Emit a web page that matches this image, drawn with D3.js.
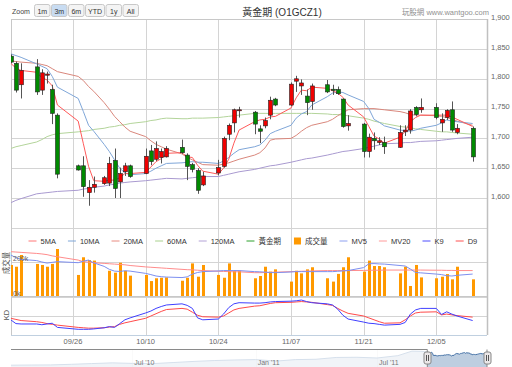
<!DOCTYPE html>
<html><head><meta charset="utf-8">
<script src="https://cdn.jsdelivr.net/npm/d3@7"></script>
<style>
body{margin:0;background:#fff;}
svg{display:block;font-family:"Liberation Sans","Noto Sans CJK TC",Arial,sans-serif;}
</style></head>
<body><svg id="c" width="512" height="367"></svg>
<script>
// ---------- DATA ----------
const dates = ["2011-09-14","2011-09-15","2011-09-16","2011-09-19","2011-09-20","2011-09-21","2011-09-22","2011-09-23",
"2011-09-27","2011-09-28","2011-09-29","2011-09-30","2011-10-02","2011-10-03","2011-10-04","2011-10-05","2011-10-06","2011-10-07",
"2011-10-10","2011-10-11","2011-10-12","2011-10-13","2011-10-14","2011-10-17","2011-10-18","2011-10-19","2011-10-20","2011-10-21",
"2011-10-24","2011-10-25","2011-10-26","2011-10-27","2011-10-28","2011-10-31","2011-11-01","2011-11-02","2011-11-03","2011-11-04",
"2011-11-07","2011-11-08","2011-11-09","2011-11-10","2011-11-11","2011-11-14","2011-11-15","2011-11-16","2011-11-17","2011-11-18",
"2011-11-21","2011-11-22","2011-11-23","2011-11-24","2011-11-25","2011-11-28","2011-11-29","2011-11-30","2011-12-01","2011-12-02",
"2011-12-05","2011-12-06","2011-12-07","2011-12-08","2011-12-09","2011-12-12"];
const opens  = [1838,1826,1790,1820,1781,1806,1782,1739,1654,1654,1609,1618,1624,1625,1663,1627,1644,1654,1641,1679,1665,1668,1669,1685,1672,1656,1646,1622,1642,1653,1707,1726,1747,1744,1716,1721,1739,1766,1756,1796,1788,1771,1762,1790,1782.5,1782,1766,1721,1724,1678,1700,1693,1693,1685,1711,1714,1752,1748,1752,1726,1735,1748,1710,1717];
const highs  = [1841,1829,1826,1833,1816,1812,1790,1742,1656,1670,1630,1636,1637,1669,1683,1651,1659,1656,1683,1689,1695,1683,1687,1698,1675,1659,1650,1644,1664,1703,1725,1750,1753,1746,1722,1735,1770,1768,1794,1805,1799,1782,1792,1798,1790,1787,1767,1739,1726,1708,1710,1702,1703,1722,1722,1749,1754,1767,1759,1742,1749,1762,1724,1720];
const lows   = [1826,1777,1767,1773,1773,1792,1724,1633,1646,1602,1587,1609,1622,1620,1600,1600,1637,1634,1640,1655,1662,1658,1668,1674,1630,1643,1607,1620,1638,1651,1697,1710,1735,1707,1692,1717,1732,1754,1754,1778,1773,1739,1748,1776,1773,1773,1718,1713,1668,1668,1681,1689,1674,1684,1704,1708,1737,1743,1732,1711,1731,1711,1707,1661];
const closes = [1828,1781,1814,1778,1810,1808,1742,1640,1647,1619,1618,1623,1634,1658,1616,1641,1654,1636,1670,1661,1683,1678,1683,1676,1653,1648,1613,1637,1651,1700,1722,1748,1748,1724,1712,1730,1764,1756,1791,1800,1793,1760,1788,1778,1780.5,1775,1720,1725,1678,1702,1696,1696,1686,1710,1714,1746,1740,1752,1735,1732,1747,1714,1717,1669];
const volumes = [183,173,240,189,183,173,189,275,126,227,211,208,null,150,139,196,150,122,126,91,107,110,112,93,110,192,116,183,126,110,192,150,150,107,120,173,145,158,88,150,135,158,170,107,88,132,170,227,145,208,177,177,170,135,173,63,183,112,107,116,131,101,173,101];
const ma5   = [1826,1818,1814,1811,1802,1798,1788,1756,1729,1691,1653,1629,1628,1630,1630,1634,1641,1641,1643,1652,1661,1666,1675,1676,1669,1668,1655,1645,1640,1650,1665,1692,1714,1728,1731,1732,1736,1737,1751,1768,1781,1780,1786,1784,1780,1776,1769,1756,1736,1720,1704,1699,1692,1702,1712,1728,1735,1739,1739,1739,1739,1736,1732,1720];
const ma10  = [1842,1839,1836,1825,1821,1817,1804,1786,1767,1745,1722,1712,1690,1678,1664,1650,1642,1639,1641,1645,1650,1654,1658,1659,1660,1661,1660,1660,1658,1662,1668,1675,1681,1686,1689,1697,1708,1712,1722,1734,1741,1745,1756,1770,1776,1778,1777,1773,1762,1750,1732,1727,1721,1714,1713,1712,1714,1717,1722,1726,1731,1729,1728,1725];
const ma20  = [1830,1829,1828,1826,1824,1822,1817,1812,1804,1797,1787,1779,1760,1749,1737,1728,1719,1712,1703,1696,1690,1686,1682,1674,1668,1664,1660,1656,1655,1657,1659,1662,1665,1672,1676,1684,1697,1699,1700,1705,1712,1718,1722,1728,1732,1738,1743,1748,1750,1750,1750,1749,1748,1745,1743,1740,1739,1739,1738,1737,1735,1732,1729,1722];
const ma60  = [1683,1686,1688,1694,1698,1703,1706,1708,1711,1712,1713,1715,1717,1719,1720,1722,1723,1725,1728,1730,1731,1733,1734,1733,1733,1734,1734,1734,1735,1736,1737,1738,1739,1742,1742,1742,1742,1742,1742,1742,1742,1742,1742,1741,1740,1740,1739,1738,1734,1732,1729,1727,1725,1720,1719,1718,1716,1715,1712,1711,1711,1710,1709,1707];
const ma120 = [1592,1596,1599,1607,1608,1609,1610,1611,1613,1615,1616,1618,1620,1622,1623,1625,1626,1627,1629,1630,1631,1632,1633,1632,1633,1634,1635,1636,1636,1638,1640,1642,1644,1648,1650,1652,1654,1655,1660,1662,1664,1666,1667,1672,1674,1676,1678,1679,1683,1685,1687,1689,1691,1692,1693,1693,1694,1695,1696,1697,1698,1699,1700,1702];
const mv5   = [240,225,215,208,200,194,198,202,196,205,211,195,175,158,148,146,150,148,135,128,120,116,114,111,115,131,140,145,149,151,151,151,151,145,144,142,140,139,143,145,145,145,145,145,145,147,149,151,168,190,191,189,188,180,177,160,140,138,131,128,122,120,124,131];
const mv20  = [259,257,255,249,246,242,235,230,211,202,199,196,192,190,188,186,184,180,172,170,168,166,164,158,156,155,153,151,147,146,145,144,144,139,139,140,141,142,145,146,147,148,149,151,151,151,151,151,152,153,153,153,154,154,154,154,154,154,153,153,152,152,151,151];
const k9    = [40,30,29,29,27,29,31,20,15,15,15,16,19,22,20,30,40,45,58,63,70,75,79,82,78,70,45,40,42,55,72,82,85,84,84,85,87,88,89,90,92,88,85,82,79,68,52,42,34,31,30,28,26,28,33,55,66,70,70,54,61,55,50,38];
const d9    = [44,41,38,35,33,30,28,26,20,19,18,18,19,21,22,28,32,35,44,50,56,62,67,70,68,60,52,48,47,50,58,66,70,76,77,80,83,85,86,87,88,87,86,80,78,70,63,57,50,45,40,35,31,32,40,50,58,60,61,53,55,53,51,47];
const priceTicks = [1600,1650,1700,1750,1800,1850,1900];
const volTicks = [0,200];
const xTickDates = ["2011-09-26","2011-10-10","2011-10-24","2011-11-07","2011-11-21","2011-12-05"];
const navDates = ["2010-01-01","2010-02-01","2010-03-01","2010-04-01","2010-05-01","2010-06-01","2010-07-01","2010-08-01","2010-09-01","2010-10-01","2010-11-01","2010-12-01","2011-01-01","2011-02-01","2011-03-01","2011-04-01","2011-05-01","2011-06-01","2011-07-01","2011-08-01","2011-08-22","2011-09-06"];
const navValues = [1100,1110,1115,1150,1190,1230,1200,1190,1250,1310,1360,1390,1410,1330,1410,1430,1530,1540,1500,1630,1880,1870];
const navTickDates = ["2010-07-01","2011-01-01","2011-07-01"];
const navTickLabels = ["Jul '10","Jan '11","Jul '11"];
const zoomButtons = ["1m","3m","6m","YTD","1y","All"];
const selectedButton = "3m";
const legendItems = [
  {name:"5MA", type:"line", color:"#f77"},
  {name:"10MA", type:"line", color:"#7fa6d8"},
  {name:"20MA", type:"line", color:"#e88a80"},
  {name:"60MA", type:"line", color:"#a9d18e"},
  {name:"120MA", type:"line", color:"#b3a2d6"},
  {name:"黃金期", type:"line", color:"#2ca02c"},
  {name:"成交量", type:"square", color:"#f90"},
  {name:"MV5", type:"line", color:"#8d9ff0"},
  {name:"MV20", type:"line", color:"#ff9a9a"},
  {name:"K9", type:"line", color:"#4d4dff"},
  {name:"D9", type:"line", color:"#ff5050"}
];
const maSeries = [
  {values:ma120, color:"#a99ad0"},
  {values:ma60, color:"#b3d49a"},
  {values:ma20, color:"#d9877c"},
  {values:ma10, color:"#7fa6d8"},
  {values:ma5, color:"#ff5a5a"}
];

// ---------- LAYOUT ----------
const svg = d3.select("#c");
const parse = d3.utcParse("%Y-%m-%d");
const D = dates.map(parse);
const L = 11, R = 487, TOP = 19, BOTTOM = 335;
const x = d3.scaleUtc()
  .domain([new Date(Date.UTC(2011,8,14,1,18)), new Date(Date.UTC(2011,11,14,18,21))])
  .range([L, R]);
const y = d3.scaleLinear().domain([1600,1900]).range([198,19.2]);
const yV = d3.scaleLinear().domain([0,200]).range([297,262]);
const yK = d3.scaleLinear().domain([0,100]).range([335,297]);
const grid = "#d4d4d4";

const defs = svg.append("defs");
function clip(id, x0, y0, w, h){ defs.append("clipPath").attr("id",id).append("rect").attr("x",x0).attr("y",y0).attr("width",w).attr("height",h); }
clip("cMain", L, TOP, R-L, 226.7-TOP);
clip("cVol", L, 249, R-L, 297-249);
clip("cKD", L, 297, R-L, BOTTOM-297);

const gMainGrid = svg.append("g");
[1550].concat(priceTicks).forEach(v=>{
  gMainGrid.append("line").attr("x1",L).attr("x2",R).attr("y1",Math.round(y(v))+0.5).attr("y2",Math.round(y(v))+0.5).attr("stroke",grid);
});
volTicks.forEach(v=>{
  svg.append("line").attr("x1",L).attr("x2",R).attr("y1",Math.round(yV(v))+0.5).attr("y2",Math.round(yV(v))+0.5).attr("stroke",grid);
});
[50].forEach(v=>{
  svg.append("line").attr("x1",L).attr("x2",R).attr("y1",Math.round(yK(v))+0.5).attr("y2",Math.round(yK(v))+0.5).attr("stroke",grid);
});
xTickDates.map(parse).forEach(d=>{
  const xx = Math.round(x(d))+0.5;
  svg.append("line").attr("x1",xx).attr("x2",xx).attr("y1",TOP).attr("y2",BOTTOM).attr("stroke",grid);
});
svg.append("line").attr("x1",L).attr("x2",R).attr("y1",TOP+0.5).attr("y2",TOP+0.5).attr("stroke","#c8c8c8");
svg.append("line").attr("x1",L+0.5).attr("x2",L+0.5).attr("y1",TOP).attr("y2",BOTTOM).attr("stroke","#c8c8c8");
svg.append("line").attr("x1",R+0.5).attr("x2",R+0.5).attr("y1",TOP).attr("y2",BOTTOM).attr("stroke","#c0c0c0").attr("stroke-width",1.5);
svg.append("line").attr("x1",L).attr("x2",R).attr("y1",BOTTOM+0.5).attr("y2",BOTTOM+0.5).attr("stroke","#c0d0e0");

// ---------- MAIN PANEL ----------
const gMain = svg.append("g").attr("clip-path","url(#cMain)");
const lineFor = (vals, ys) => d3.line().defined((d,i)=>vals[i]!=null).x((d,i)=>x(D[i])).y((d,i)=>ys(vals[i]));
maSeries.forEach(s=>{
  gMain.append("path").attr("d", lineFor(s.values, y)(s.values)).attr("fill","none").attr("stroke",s.color).attr("stroke-width",1);
});
const candles = gMain.append("g");
D.forEach((d,i)=>{
  const cx = Math.round(x(d))+0.5;
  const up = closes[i] >= opens[i];
  candles.append("line").attr("x1",cx).attr("x2",cx).attr("y1",y(highs[i])).attr("y2",y(lows[i])).attr("stroke","#555").attr("stroke-width",1);
  const top = y(Math.max(opens[i],closes[i])), bot = y(Math.min(opens[i],closes[i]));
  candles.append("rect").attr("x",cx-2).attr("y",top).attr("width",4).attr("height",Math.max(1,bot-top))
    .attr("fill", up ? "#f00000" : "#008a00").attr("stroke","#222").attr("stroke-width",0.6);
});

priceTicks.forEach(v=>{
  svg.append("text").attr("x",491).attr("y",y(v)+0.5).attr("font-size","7.5px").attr("fill","#666").text(d3.format(",")(v));
});

// ---------- VOLUME ----------
const gVol = svg.append("g").attr("clip-path","url(#cVol)");
D.forEach((d,i)=>{
  if(volumes[i]==null) return;
  gVol.append("rect").attr("x",Math.round(x(d))-1).attr("width",3).attr("y",yV(volumes[i])).attr("height",yV(0)-yV(volumes[i])).attr("fill","#ff9900");
});
gVol.append("path").attr("d", lineFor(mv20, yV)(mv20)).attr("fill","none").attr("stroke","#ff8c8c").attr("stroke-width",1);
gVol.append("path").attr("d", lineFor(mv5, yV)(mv5)).attr("fill","none").attr("stroke","#7d8ff0").attr("stroke-width",1);
volTicks.forEach(v=>{
  svg.append("text").attr("x",13).attr("y",yV(v)-1.5).attr("font-size","7px").attr("fill","#666").text(v+"k");
});
svg.append("text").attr("transform","translate(8.5,263) rotate(-90)").attr("text-anchor","middle").attr("font-size","7.5px").attr("fill","#555").text("成交量");

// ---------- KD ----------
const gKD = svg.append("g").attr("clip-path","url(#cKD)");
gKD.append("path").attr("d", lineFor(d9, yK)(d9)).attr("fill","none").attr("stroke","#ff4a4a").attr("stroke-width",1);
gKD.append("path").attr("d", lineFor(k9, yK)(k9)).attr("fill","none").attr("stroke","#4040ff").attr("stroke-width",1);
svg.append("text").attr("transform","translate(8.5,315) rotate(-90)").attr("text-anchor","middle").attr("font-size","7.5px").attr("fill","#555").text("KD");
svg.append("line").attr("x1",L).attr("x2",R).attr("y1",296.5).attr("y2",296.5).attr("stroke","#c8c8c8");

xTickDates.forEach(s=>{
  const d = parse(s);
  svg.append("text").attr("x",x(d)).attr("y",344).attr("text-anchor","middle").attr("font-size","7.5px").attr("fill","#666").text(d3.utcFormat("%m/%d")(d));
});

// ---------- LEGEND ----------
const gLeg = svg.append("g").attr("font-size","7.5px").attr("fill","#333");
let lx = 28.5;
legendItems.forEach(it=>{
  const g = gLeg.append("g").attr("transform",`translate(${lx},0)`);
  if(it.type==="line") g.append("line").attr("x1",0).attr("x2",8).attr("y1",241).attr("y2",241).attr("stroke",it.color).attr("stroke-width",1);
  else g.append("rect").attr("x",1).attr("y",237.5).attr("width",7).attr("height",7).attr("fill",it.color);
  const t = g.append("text").attr("x",12).attr("y",243.7).text(it.name);
  lx += 12 + t.node().getComputedTextLength() + 12;
});

// ---------- TOP ----------
svg.append("text").attr("x",282).attr("y",15.5).attr("text-anchor","middle").attr("font-size","10px").attr("fill","#333").text("黃金期 (O1GCZ1)");
svg.append("text").attr("x",489).attr("y",15).attr("text-anchor","end").attr("font-size","7.5px").attr("fill","#909090").text("玩股網 www.wantgoo.com");
svg.append("text").attr("x",12).attr("y",13.5).attr("font-size","7px").attr("fill","#444").text("Zoom");
let bx = 34;
const gBtn = svg.append("g");
zoomButtons.forEach(b=>{
  const w = b==="YTD" ? 19 : 15.5;
  const sel = b===selectedButton;
  gBtn.append("rect").attr("x",bx+0.5).attr("y",4.5).attr("width",w).attr("height",12).attr("rx",2)
    .attr("fill", sel ? "#c8dcf2" : "#f4f4f4").attr("stroke","#c8c8c8");
  gBtn.append("text").attr("x",bx+0.5+w/2).attr("y",13.5).attr("text-anchor","middle").attr("font-size","7px").attr("fill","#333").text(b);
  bx += w + 1.5;
});

// ---------- NAVIGATOR ----------
const navT = navDates.map(parse).concat(D);
const navV = navValues.concat(closes);
const nx = d3.scaleUtc().domain([parse("2010-01-01"), parse("2011-12-12")]).range([L, R]);
const ny = d3.scaleLinear().domain([0,2000]).range([385,349]);
const selMin = nx(D[0]), selMax = nx(D[D.length-1]);
navTickDates.forEach((s,i)=>{
  const xx = Math.round(nx(parse(s)))+0.5;
  svg.append("line").attr("x1",xx).attr("x2",xx).attr("y1",349).attr("y2",367).attr("stroke","#e6e6e6");
});
const area = d3.area().x((d,i)=>nx(navT[i])).y0(367).y1((d,i)=>ny(navV[i]));
svg.append("path").attr("d",area(navV)).attr("fill","#4572a7").attr("fill-opacity",0.35);
svg.append("path").attr("d",d3.line().x((d,i)=>nx(navT[i])).y((d,i)=>ny(navV[i]))(navV)).attr("fill","none").attr("stroke","#4572a7").attr("stroke-width",1);
svg.append("rect").attr("x",L).attr("y",349).attr("width",selMin-L).attr("height",18).attr("fill","#fff").attr("fill-opacity",0.78);
navTickDates.forEach((s,i)=>{
  svg.append("text").attr("x",nx(parse(s))+2).attr("y",364.5).attr("font-size","7px").attr("fill","#777").text(navTickLabels[i]);
});
svg.append("path").attr("d",`M${L},349.5H${selMin}V367M${selMax},367V349.5`).attr("fill","none").attr("stroke","#8a8a8a");
[selMin, selMax].forEach(hx=>{
  const g = svg.append("g").attr("transform",`translate(${Math.round(hx)+0.5},0)`);
  g.append("rect").attr("x",-3.5).attr("y",352).attr("width",7).attr("height",12).attr("rx",2).attr("fill","#ebe7e8").attr("stroke","#888");
  g.append("line").attr("x1",-1).attr("x2",-1).attr("y1",355).attr("y2",361).attr("stroke","#555");
  g.append("line").attr("x1",1).attr("x2",1).attr("y1",355).attr("y2",361).attr("stroke","#555");
});
</script>
</body></html>
